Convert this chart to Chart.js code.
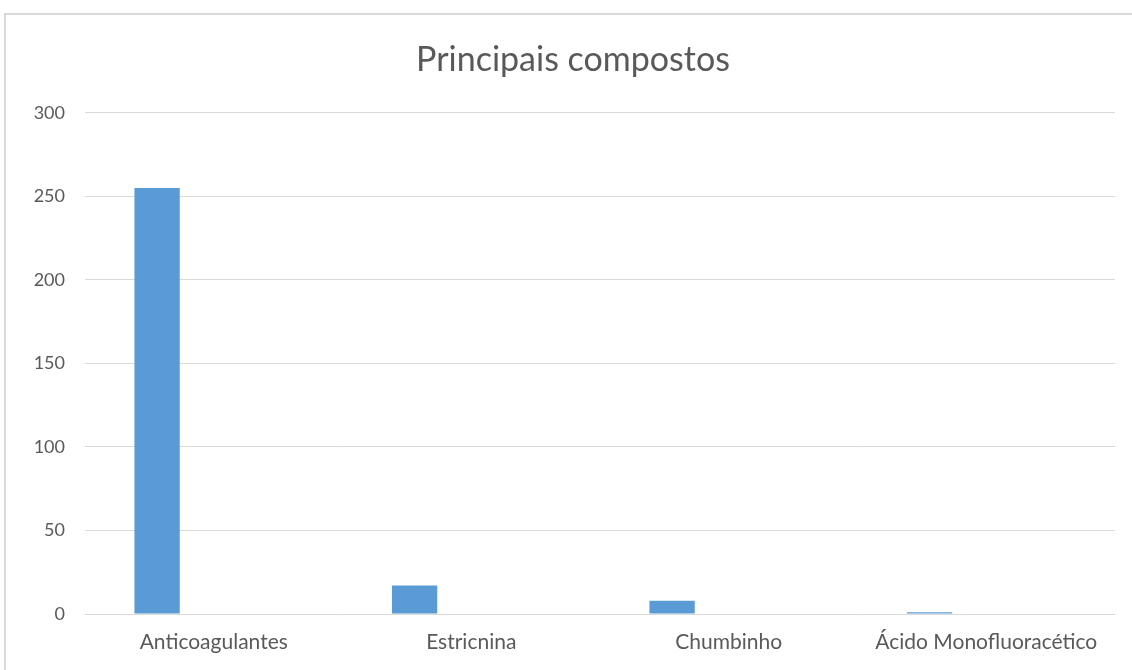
<!DOCTYPE html>
<html>
<head>
<meta charset="utf-8">
<script src="https://cdn.jsdelivr.net/npm/chart.js@4"></script>
<style>
  html, body { margin: 0; padding: 0; background: #fff; }
  #frame { position: absolute; left: 4px; top: 13px; width: 1140px; height: 680px; border: 2px solid #d9d9d9; box-sizing: border-box; }
  #wrap { position: absolute; left: 0; top: 0; width: 1132px; height: 670px; }
</style>
</head>
<body>
<div id="frame"></div>
<div id="wrap"><canvas id="myChart"></canvas></div>
<script>
// categories and values
var categorias = ['Anticoagulantes', 'Estricnina', 'Chumbinho', 'Ácido Monofluoracético'];
var casos = [255, 17, 8, 1];
// the sheet has two more series with no values, which pushes the bars left
var serie2 = [null, null, null, null];
var serie3 = [null, null, null, null];
var yTicks = [0, 50, 100, 150, 200, 250, 300];

var cinza = '#595959';
var fonte = 'Lato, "Open Sans", sans-serif';

var ctx = document.getElementById('myChart').getContext('2d');
var myChart = new Chart(ctx, {
    type: 'bar',
    data: {
        labels: categorias,
        datasets: [
            { label: 'Casos', data: casos, backgroundColor: '#5b9bd5', categoryPercentage: 0.66, barPercentage: 0.8 },
            { label: 'Série 2', data: serie2, backgroundColor: '#ed7d31', categoryPercentage: 0.66, barPercentage: 0.8 },
            { label: 'Série 3', data: serie3, backgroundColor: '#a5a5a5', categoryPercentage: 0.66, barPercentage: 0.8 }
        ]
    },
    options: {
        responsive: true,
        maintainAspectRatio: false,
        animation: false,
        layout: { padding: { left: 31, right: 17, top: 0, bottom: 0 } },
        plugins: {
            legend: { display: false },
            tooltip: { enabled: false },
            title: {
                display: true,
                text: 'Principais compostos',
                color: cinza,
                font: { family: fonte, size: 34, weight: 'normal' },
                padding: { top: 40, bottom: 32 }
            }
        },
        scales: {
            x: {
                grid: { display: false, drawTicks: false },
                border: { display: false },
                ticks: { color: cinza, font: { family: fonte, size: 21 }, padding: 16, maxRotation: 0, autoSkip: false },
                afterFit: function (scale) { scale.height = 56; }
            },
            y: {
                min: 0,
                max: 300,
                afterBuildTicks: function (scale) { scale.ticks = yTicks.map(function (v) { return { value: v }; }); },
                grid: { color: '#d9d9d9', lineWidth: 1, drawTicks: false },
                border: { display: false },
                ticks: { color: cinza, font: { family: fonte, size: 18 }, padding: 20 },
                afterFit: function (scale) { scale.width = 54; }
            }
        }
    }
});
</script>
</body>
</html>
